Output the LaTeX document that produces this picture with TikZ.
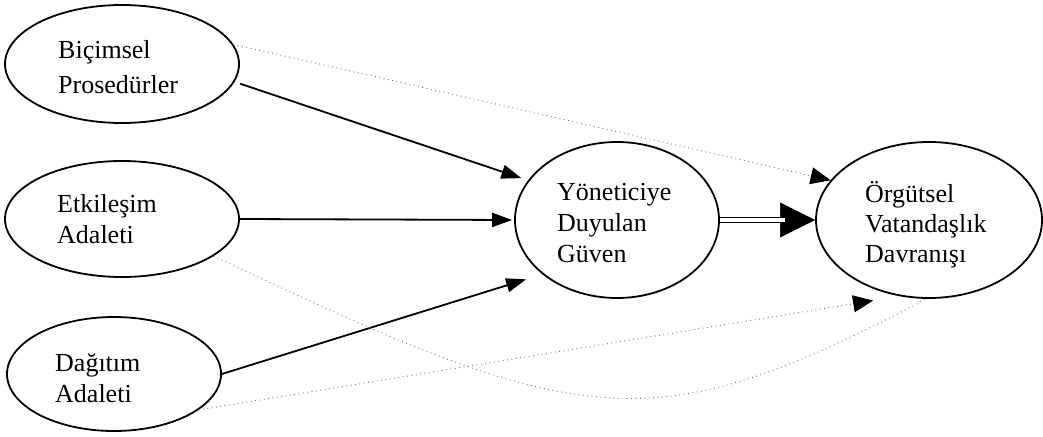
\documentclass[tikz,border=0pt]{standalone}
\usepackage{fontspec}
\setmainfont{Liberation Serif}
\usetikzlibrary{arrows.meta,shapes.geometric}
\begin{document}
\begin{tikzpicture}[x=1pt,y=-1pt,
  oval/.style={draw=black, line width=1.8pt, ellipse, inner sep=0pt},
  lbl/.style={anchor=base west, inner sep=0pt, align=left},
  pathto/.style={line width=1.8pt, -{Triangle[length=20pt,width=14pt]}},
  faint/.style={draw=black!55, line width=0.9pt, dash pattern=on 0.9pt off 3.5pt},
  fainttip/.style={faint, -{Triangle[length=20pt,width=17pt,color=black]}}
]
\useasboundingbox (0,0) rectangle (1043,436);

% ovals
\node[oval, minimum width=234pt, minimum height=118pt] (bic) at (122,64) {};
\node[oval, minimum width=234pt, minimum height=116pt] (etk) at (122,219) {};
\node[oval, minimum width=214pt, minimum height=114pt] (dag) at (114,374) {};
\node[oval, minimum width=204pt, minimum height=156pt] (yon) at (617,220) {};
\node[oval, minimum width=226pt, minimum height=156pt] (org) at (929,220) {};

% texts (placed by the baseline of their last line)
\node[lbl, font=\fontsize{26}{35}\selectfont] (bic-t) at (58,93) {Biçimsel\\Prosedürler};
\node[lbl, font=\fontsize{26}{31}\selectfont] (etk-t) at (57,243.5) {Etkileşim\\Adaleti};
\node[lbl, font=\fontsize{26}{31}\selectfont] (dag-t) at (55,402) {Dağıtım\\Adaleti};
\node[lbl, font=\fontsize{26}{31}\selectfont] (yon-t) at (557,262) {Yöneticiye\\Duyulan\\Güven};
\node[lbl, font=\fontsize{26}{30}\selectfont] (org-t) at (865,262) {Örgütsel\\Vatandaşlık\\Davranışı};

% solid paths into the mediator
\draw[pathto, shorten <=6pt, shorten >=7pt] (bic.-9) -- (yon.156);
\draw[pathto, shorten >=2pt] (etk.east) -- (yon.west);
\draw[pathto, shorten >=17pt] (dag.east) -- (yon.-144);

% double path from mediator to outcome
\draw[white, line width=0.5pt, -{Triangle[length=35pt,width=35pt,color=black]}] (yon.east) -- (org.west);
\draw[double, line width=1.5pt, double distance=3.5pt, shorten >=30pt] (yon.east) -- (org.west);

% faint direct paths
\draw[fainttip] (bic.10) -- (org.158);
\draw[fainttip, shorten >=27pt] (dag.-23) -- (org.-111);
\draw[faint] (etk.-22) .. controls (580,430) and (650,445) .. (org.-92);
\end{tikzpicture}
\end{document}
